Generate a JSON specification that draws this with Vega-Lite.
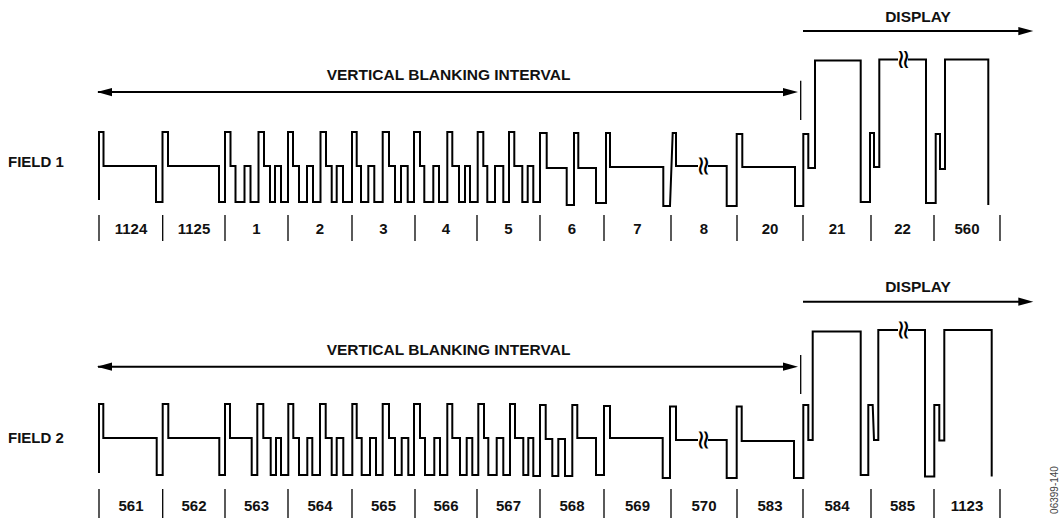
{
  "$schema": "https://vega.github.io/schema/vega-lite/v6.json",
  "width": 1063,
  "height": 523,
  "autosize": {"type": "fit", "contains": "padding"},
  "padding": 0,
  "background": "white",
  "config": {"view": {"stroke": null}, "text": {"font": "Liberation Sans"}},
  "datasets": {
    "wave": [
      {"s":"f1a","i":1,"x":99,"y":200},{"s":"f1a","i":2,"x":99,"y":132},{"s":"f1a","i":3,"x":103.5,"y":132},{"s":"f1a","i":4,"x":103.5,"y":166},{"s":"f1a","i":5,"x":156,"y":166},{"s":"f1a","i":6,"x":156,"y":202},{"s":"f1a","i":7,"x":162.5,"y":202},{"s":"f1a","i":8,"x":162.5,"y":132},{"s":"f1a","i":9,"x":168,"y":132},{"s":"f1a","i":10,"x":168,"y":166},
      {"s":"f1a","i":11,"x":219,"y":166},{"s":"f1a","i":12,"x":219,"y":202},{"s":"f1a","i":13,"x":225,"y":202},{"s":"f1a","i":14,"x":225,"y":132},{"s":"f1a","i":15,"x":230.5,"y":132},{"s":"f1a","i":16,"x":230.5,"y":166},{"s":"f1a","i":17,"x":235.5,"y":166},{"s":"f1a","i":18,"x":235.5,"y":202},{"s":"f1a","i":19,"x":244.5,"y":202},{"s":"f1a","i":20,"x":244.5,"y":166},
      {"s":"f1a","i":21,"x":250.5,"y":166},{"s":"f1a","i":22,"x":250.5,"y":202},{"s":"f1a","i":23,"x":258.5,"y":202},{"s":"f1a","i":24,"x":258.5,"y":132},{"s":"f1a","i":25,"x":264,"y":132},{"s":"f1a","i":26,"x":264,"y":166},{"s":"f1a","i":27,"x":270,"y":166},{"s":"f1a","i":28,"x":270,"y":202},{"s":"f1a","i":29,"x":275,"y":202},{"s":"f1a","i":30,"x":275,"y":166},
      {"s":"f1a","i":31,"x":281,"y":166},{"s":"f1a","i":32,"x":281,"y":202},{"s":"f1a","i":33,"x":288,"y":202},{"s":"f1a","i":34,"x":288,"y":132},{"s":"f1a","i":35,"x":293,"y":132},{"s":"f1a","i":36,"x":293,"y":166},{"s":"f1a","i":37,"x":299,"y":166},{"s":"f1a","i":38,"x":299,"y":202},{"s":"f1a","i":39,"x":307,"y":202},{"s":"f1a","i":40,"x":307,"y":166},
      {"s":"f1a","i":41,"x":313,"y":166},{"s":"f1a","i":42,"x":313,"y":202},{"s":"f1a","i":43,"x":320.5,"y":202},{"s":"f1a","i":44,"x":320.5,"y":132},{"s":"f1a","i":45,"x":326,"y":132},{"s":"f1a","i":46,"x":326,"y":166},{"s":"f1a","i":47,"x":331.7,"y":166},{"s":"f1a","i":48,"x":331.7,"y":202},{"s":"f1a","i":49,"x":336.7,"y":202},{"s":"f1a","i":50,"x":336.7,"y":166},
      {"s":"f1a","i":51,"x":343,"y":166},{"s":"f1a","i":52,"x":343,"y":202},{"s":"f1a","i":53,"x":352,"y":202},{"s":"f1a","i":54,"x":352,"y":132},{"s":"f1a","i":55,"x":356.7,"y":132},{"s":"f1a","i":56,"x":356.7,"y":166},{"s":"f1a","i":57,"x":361,"y":166},{"s":"f1a","i":58,"x":361,"y":202},{"s":"f1a","i":59,"x":368.3,"y":202},{"s":"f1a","i":60,"x":368.3,"y":166},
      {"s":"f1a","i":61,"x":374.3,"y":166},{"s":"f1a","i":62,"x":374.3,"y":202},{"s":"f1a","i":63,"x":382.7,"y":202},{"s":"f1a","i":64,"x":382.7,"y":132},{"s":"f1a","i":65,"x":389,"y":132},{"s":"f1a","i":66,"x":389,"y":166},{"s":"f1a","i":67,"x":395,"y":166},{"s":"f1a","i":68,"x":395,"y":202},{"s":"f1a","i":69,"x":401,"y":202},{"s":"f1a","i":70,"x":401,"y":166},
      {"s":"f1a","i":71,"x":407.7,"y":166},{"s":"f1a","i":72,"x":407.7,"y":202},{"s":"f1a","i":73,"x":414,"y":202},{"s":"f1a","i":74,"x":414,"y":132},{"s":"f1a","i":75,"x":420,"y":132},{"s":"f1a","i":76,"x":420,"y":166},{"s":"f1a","i":77,"x":424.3,"y":166},{"s":"f1a","i":78,"x":424.3,"y":202},{"s":"f1a","i":79,"x":433.3,"y":202},{"s":"f1a","i":80,"x":433.3,"y":166},
      {"s":"f1a","i":81,"x":439,"y":166},{"s":"f1a","i":82,"x":439,"y":202},{"s":"f1a","i":83,"x":447.3,"y":202},{"s":"f1a","i":84,"x":447.3,"y":132},{"s":"f1a","i":85,"x":452.3,"y":132},{"s":"f1a","i":86,"x":452.3,"y":166},{"s":"f1a","i":87,"x":459,"y":166},{"s":"f1a","i":88,"x":459,"y":202},{"s":"f1a","i":89,"x":465,"y":202},{"s":"f1a","i":90,"x":465,"y":166},
      {"s":"f1a","i":91,"x":470,"y":166},{"s":"f1a","i":92,"x":470,"y":202},{"s":"f1a","i":93,"x":477.7,"y":202},{"s":"f1a","i":94,"x":477.7,"y":132},{"s":"f1a","i":95,"x":483.3,"y":132},{"s":"f1a","i":96,"x":483.3,"y":166},{"s":"f1a","i":97,"x":487.3,"y":166},{"s":"f1a","i":98,"x":487.3,"y":202},{"s":"f1a","i":99,"x":495,"y":202},{"s":"f1a","i":100,"x":495,"y":166},
      {"s":"f1a","i":101,"x":503.3,"y":166},{"s":"f1a","i":102,"x":503.3,"y":202},{"s":"f1a","i":103,"x":509,"y":202},{"s":"f1a","i":104,"x":509,"y":132},{"s":"f1a","i":105,"x":514.3,"y":132},{"s":"f1a","i":106,"x":514.3,"y":166},{"s":"f1a","i":107,"x":522.3,"y":166},{"s":"f1a","i":108,"x":522.3,"y":202},{"s":"f1a","i":109,"x":527.7,"y":202},{"s":"f1a","i":110,"x":527.7,"y":166},
      {"s":"f1a","i":111,"x":533.3,"y":166},{"s":"f1a","i":112,"x":533.3,"y":202},{"s":"f1a","i":113,"x":540,"y":202},{"s":"f1a","i":114,"x":540,"y":133},{"s":"f1a","i":115,"x":546.7,"y":133},{"s":"f1a","i":116,"x":546.7,"y":168},{"s":"f1a","i":117,"x":566.7,"y":168},{"s":"f1a","i":118,"x":566.7,"y":205},{"s":"f1a","i":119,"x":574,"y":205},{"s":"f1a","i":120,"x":574,"y":133},
      {"s":"f1a","i":121,"x":578.3,"y":133},{"s":"f1a","i":122,"x":578.3,"y":168},{"s":"f1a","i":123,"x":596,"y":168},{"s":"f1a","i":124,"x":596,"y":203},{"s":"f1a","i":125,"x":606,"y":203},{"s":"f1a","i":126,"x":606,"y":133},{"s":"f1a","i":127,"x":610,"y":133},{"s":"f1a","i":128,"x":610,"y":167},{"s":"f1a","i":129,"x":663.3,"y":167},{"s":"f1a","i":130,"x":663.3,"y":206},
      {"s":"f1a","i":131,"x":670,"y":206},{"s":"f1a","i":132,"x":672.7,"y":133},{"s":"f1a","i":133,"x":676,"y":133},{"s":"f1a","i":134,"x":676,"y":166},{"s":"f1a","i":135,"x":698,"y":166},
      {"s":"f1b","i":1,"x":708,"y":166},{"s":"f1b","i":2,"x":726.7,"y":166},{"s":"f1b","i":3,"x":726.7,"y":206},{"s":"f1b","i":4,"x":736.7,"y":206},{"s":"f1b","i":5,"x":736.7,"y":134},{"s":"f1b","i":6,"x":742.3,"y":134},{"s":"f1b","i":7,"x":742.3,"y":167},{"s":"f1b","i":8,"x":795,"y":167},{"s":"f1b","i":9,"x":795,"y":206},{"s":"f1b","i":10,"x":803.3,"y":206},
      {"s":"f1b","i":11,"x":803.3,"y":134},{"s":"f1b","i":12,"x":808.3,"y":134},{"s":"f1b","i":13,"x":808.3,"y":168},{"s":"f1b","i":14,"x":815,"y":168},{"s":"f1b","i":15,"x":815,"y":60.5},{"s":"f1b","i":16,"x":860.7,"y":60.5},{"s":"f1b","i":17,"x":860.7,"y":202},{"s":"f1b","i":18,"x":870,"y":202},{"s":"f1b","i":19,"x":870,"y":133},{"s":"f1b","i":20,"x":874,"y":133},
      {"s":"f1b","i":21,"x":874,"y":167},{"s":"f1b","i":22,"x":879.3,"y":167},{"s":"f1b","i":23,"x":879.3,"y":59.5},{"s":"f1b","i":24,"x":898,"y":59.5},
      {"s":"f1c","i":1,"x":908,"y":59.5},{"s":"f1c","i":2,"x":926,"y":59.5},{"s":"f1c","i":3,"x":926,"y":203},{"s":"f1c","i":4,"x":935.7,"y":203},{"s":"f1c","i":5,"x":935.7,"y":134},{"s":"f1c","i":6,"x":940,"y":134},{"s":"f1c","i":7,"x":940,"y":169},{"s":"f1c","i":8,"x":945,"y":169},{"s":"f1c","i":9,"x":945,"y":59.5},{"s":"f1c","i":10,"x":988.3,"y":59.5},{"s":"f1c","i":11,"x":988.3,"y":205},

      {"s":"f2a","i":1,"x":99,"y":473},{"s":"f2a","i":2,"x":99,"y":404},{"s":"f2a","i":3,"x":103.3,"y":404},{"s":"f2a","i":4,"x":103.3,"y":438},{"s":"f2a","i":5,"x":156.7,"y":438},{"s":"f2a","i":6,"x":156.7,"y":475},{"s":"f2a","i":7,"x":162.7,"y":475},{"s":"f2a","i":8,"x":162.7,"y":404},{"s":"f2a","i":9,"x":168.3,"y":404},{"s":"f2a","i":10,"x":168.3,"y":438},
      {"s":"f2a","i":11,"x":219.3,"y":438},{"s":"f2a","i":12,"x":219.3,"y":475},{"s":"f2a","i":13,"x":225,"y":475},{"s":"f2a","i":14,"x":225,"y":404},{"s":"f2a","i":15,"x":230,"y":404},{"s":"f2a","i":16,"x":230,"y":438},{"s":"f2a","i":17,"x":251.7,"y":438},{"s":"f2a","i":18,"x":251.7,"y":475},{"s":"f2a","i":19,"x":257.3,"y":475},{"s":"f2a","i":20,"x":257.3,"y":404},
      {"s":"f2a","i":21,"x":263.3,"y":404},{"s":"f2a","i":22,"x":263.3,"y":438},{"s":"f2a","i":23,"x":270.7,"y":438},{"s":"f2a","i":24,"x":270.7,"y":475},{"s":"f2a","i":25,"x":276,"y":475},{"s":"f2a","i":26,"x":276,"y":438},{"s":"f2a","i":27,"x":281,"y":438},{"s":"f2a","i":28,"x":281,"y":475},{"s":"f2a","i":29,"x":288.3,"y":475},{"s":"f2a","i":30,"x":288.3,"y":404},
      {"s":"f2a","i":31,"x":293.3,"y":404},{"s":"f2a","i":32,"x":293.3,"y":438},{"s":"f2a","i":33,"x":299,"y":438},{"s":"f2a","i":34,"x":299,"y":475},{"s":"f2a","i":35,"x":307.3,"y":475},{"s":"f2a","i":36,"x":307.3,"y":438},{"s":"f2a","i":37,"x":312.3,"y":438},{"s":"f2a","i":38,"x":312.3,"y":475},{"s":"f2a","i":39,"x":320,"y":475},{"s":"f2a","i":40,"x":320,"y":404},
      {"s":"f2a","i":41,"x":325.7,"y":404},{"s":"f2a","i":42,"x":325.7,"y":438},{"s":"f2a","i":43,"x":331.7,"y":438},{"s":"f2a","i":44,"x":331.7,"y":475},{"s":"f2a","i":45,"x":336.7,"y":475},{"s":"f2a","i":46,"x":336.7,"y":438},{"s":"f2a","i":47,"x":343.3,"y":438},{"s":"f2a","i":48,"x":343.3,"y":475},{"s":"f2a","i":49,"x":352.3,"y":475},{"s":"f2a","i":50,"x":352.3,"y":404},
      {"s":"f2a","i":51,"x":356.7,"y":404},{"s":"f2a","i":52,"x":356.7,"y":438},{"s":"f2a","i":53,"x":361.7,"y":438},{"s":"f2a","i":54,"x":361.7,"y":475},{"s":"f2a","i":55,"x":370,"y":475},{"s":"f2a","i":56,"x":370,"y":438},{"s":"f2a","i":57,"x":376,"y":438},{"s":"f2a","i":58,"x":376,"y":475},{"s":"f2a","i":59,"x":382.7,"y":475},{"s":"f2a","i":60,"x":382.7,"y":404},
      {"s":"f2a","i":61,"x":389,"y":404},{"s":"f2a","i":62,"x":389,"y":438},{"s":"f2a","i":63,"x":395,"y":438},{"s":"f2a","i":64,"x":395,"y":475},{"s":"f2a","i":65,"x":401.7,"y":475},{"s":"f2a","i":66,"x":401.7,"y":438},{"s":"f2a","i":67,"x":408.3,"y":438},{"s":"f2a","i":68,"x":408.3,"y":475},{"s":"f2a","i":69,"x":414,"y":475},{"s":"f2a","i":70,"x":414,"y":404},
      {"s":"f2a","i":71,"x":420,"y":404},{"s":"f2a","i":72,"x":420,"y":438},{"s":"f2a","i":73,"x":425,"y":438},{"s":"f2a","i":74,"x":425,"y":475},{"s":"f2a","i":75,"x":434.3,"y":475},{"s":"f2a","i":76,"x":434.3,"y":438},{"s":"f2a","i":77,"x":440,"y":438},{"s":"f2a","i":78,"x":440,"y":475},{"s":"f2a","i":79,"x":447.3,"y":475},{"s":"f2a","i":80,"x":447.3,"y":404},
      {"s":"f2a","i":81,"x":452.3,"y":404},{"s":"f2a","i":82,"x":452.3,"y":438},{"s":"f2a","i":83,"x":460,"y":438},{"s":"f2a","i":84,"x":460,"y":475},{"s":"f2a","i":85,"x":466.7,"y":475},{"s":"f2a","i":86,"x":466.7,"y":438},{"s":"f2a","i":87,"x":472.3,"y":438},{"s":"f2a","i":88,"x":472.3,"y":475},{"s":"f2a","i":89,"x":478.3,"y":475},{"s":"f2a","i":90,"x":478.3,"y":404},
      {"s":"f2a","i":91,"x":484,"y":404},{"s":"f2a","i":92,"x":484,"y":438},{"s":"f2a","i":93,"x":488.3,"y":438},{"s":"f2a","i":94,"x":488.3,"y":475},{"s":"f2a","i":95,"x":496.7,"y":475},{"s":"f2a","i":96,"x":496.7,"y":438},{"s":"f2a","i":97,"x":503.3,"y":438},{"s":"f2a","i":98,"x":503.3,"y":475},{"s":"f2a","i":99,"x":510,"y":475},{"s":"f2a","i":100,"x":510,"y":404},
      {"s":"f2a","i":101,"x":515,"y":404},{"s":"f2a","i":102,"x":515,"y":438},{"s":"f2a","i":103,"x":523.3,"y":438},{"s":"f2a","i":104,"x":523.3,"y":475},{"s":"f2a","i":105,"x":528.3,"y":475},{"s":"f2a","i":106,"x":528.3,"y":438},{"s":"f2a","i":107,"x":533.3,"y":438},{"s":"f2a","i":108,"x":533.3,"y":476},{"s":"f2a","i":109,"x":540,"y":476},{"s":"f2a","i":110,"x":540,"y":405},
      {"s":"f2a","i":111,"x":545.7,"y":405},{"s":"f2a","i":112,"x":545.7,"y":439},{"s":"f2a","i":113,"x":552.3,"y":439},{"s":"f2a","i":114,"x":552.3,"y":476},{"s":"f2a","i":115,"x":558.3,"y":476},{"s":"f2a","i":116,"x":558.3,"y":439},{"s":"f2a","i":117,"x":565,"y":439},{"s":"f2a","i":118,"x":565,"y":476},{"s":"f2a","i":119,"x":572.3,"y":476},{"s":"f2a","i":120,"x":572.3,"y":405},
      {"s":"f2a","i":121,"x":577.3,"y":405},{"s":"f2a","i":122,"x":577.3,"y":438},{"s":"f2a","i":123,"x":596,"y":438},{"s":"f2a","i":124,"x":596,"y":475},{"s":"f2a","i":125,"x":604,"y":475},{"s":"f2a","i":126,"x":604,"y":406},{"s":"f2a","i":127,"x":610,"y":406},{"s":"f2a","i":128,"x":610,"y":438},{"s":"f2a","i":129,"x":662.7,"y":438},{"s":"f2a","i":130,"x":662.7,"y":478},
      {"s":"f2a","i":131,"x":670,"y":478},{"s":"f2a","i":132,"x":670,"y":406.5},{"s":"f2a","i":133,"x":676,"y":406.5},{"s":"f2a","i":134,"x":676,"y":440},{"s":"f2a","i":135,"x":698,"y":440},
      {"s":"f2b","i":1,"x":708,"y":440},{"s":"f2b","i":2,"x":726.7,"y":440},{"s":"f2b","i":3,"x":726.7,"y":478},{"s":"f2b","i":4,"x":736.7,"y":478},{"s":"f2b","i":5,"x":736.7,"y":406.5},{"s":"f2b","i":6,"x":741.7,"y":406.5},{"s":"f2b","i":7,"x":741.7,"y":441},{"s":"f2b","i":8,"x":794,"y":441},{"s":"f2b","i":9,"x":794,"y":478},{"s":"f2b","i":10,"x":803.3,"y":478},
      {"s":"f2b","i":11,"x":803.3,"y":405},{"s":"f2b","i":12,"x":808.3,"y":405},{"s":"f2b","i":13,"x":808.3,"y":440},{"s":"f2b","i":14,"x":812.7,"y":440},{"s":"f2b","i":15,"x":812.7,"y":331.5},{"s":"f2b","i":16,"x":860.7,"y":331.5},{"s":"f2b","i":17,"x":860.7,"y":475},{"s":"f2b","i":18,"x":868.3,"y":475},{"s":"f2b","i":19,"x":868.3,"y":405},{"s":"f2b","i":20,"x":872.7,"y":405},
      {"s":"f2b","i":21,"x":874,"y":440},{"s":"f2b","i":22,"x":878.3,"y":440},{"s":"f2b","i":23,"x":878.3,"y":330},{"s":"f2b","i":24,"x":898,"y":330},
      {"s":"f2c","i":1,"x":908,"y":330},{"s":"f2c","i":2,"x":925,"y":330},{"s":"f2c","i":3,"x":925,"y":476.5},{"s":"f2c","i":4,"x":934.3,"y":476.5},{"s":"f2c","i":5,"x":934.3,"y":405},{"s":"f2c","i":6,"x":939.3,"y":405},{"s":"f2c","i":7,"x":939.3,"y":440.5},{"s":"f2c","i":8,"x":944.3,"y":440.5},{"s":"f2c","i":9,"x":944.3,"y":330},{"s":"f2c","i":10,"x":991.7,"y":330},{"s":"f2c","i":11,"x":991.7,"y":476.5}
    ],
    "ticks": [
      {"x":99,"y":215,"y2":241},{"x":162.7,"y":215,"y2":241},{"x":225,"y":215,"y2":241},{"x":288,"y":215,"y2":241},{"x":352,"y":215,"y2":241},{"x":415,"y":215,"y2":241},{"x":477,"y":215,"y2":241},{"x":540,"y":215,"y2":241},{"x":604,"y":215,"y2":241},{"x":671,"y":215,"y2":241},{"x":737,"y":215,"y2":241},{"x":803,"y":215,"y2":241},{"x":871,"y":215,"y2":241},{"x":934,"y":215,"y2":241},{"x":1000,"y":215,"y2":241},
      {"x":99,"y":489,"y2":518},{"x":162.7,"y":489,"y2":518},{"x":225,"y":489,"y2":518},{"x":288,"y":489,"y2":518},{"x":352,"y":489,"y2":518},{"x":415,"y":489,"y2":518},{"x":477,"y":489,"y2":518},{"x":540,"y":489,"y2":518},{"x":604,"y":489,"y2":518},{"x":671,"y":489,"y2":518},{"x":737,"y":489,"y2":518},{"x":803,"y":489,"y2":518},{"x":871,"y":489,"y2":518},{"x":934,"y":489,"y2":518},{"x":1000,"y":489,"y2":518}
    ],
    "lineLabels": [
      {"x":131,"y":229,"t":"1124"},{"x":194,"y":229,"t":"1125"},{"x":256.5,"y":229,"t":"1"},{"x":320,"y":229,"t":"2"},{"x":383.5,"y":229,"t":"3"},{"x":446,"y":229,"t":"4"},{"x":508.5,"y":229,"t":"5"},{"x":572,"y":229,"t":"6"},{"x":637.5,"y":229,"t":"7"},{"x":704,"y":229,"t":"8"},{"x":770,"y":229,"t":"20"},{"x":837,"y":229,"t":"21"},{"x":902.5,"y":229,"t":"22"},{"x":967,"y":229,"t":"560"},
      {"x":131,"y":506,"t":"561"},{"x":194,"y":506,"t":"562"},{"x":256.5,"y":506,"t":"563"},{"x":320,"y":506,"t":"564"},{"x":383.5,"y":506,"t":"565"},{"x":446,"y":506,"t":"566"},{"x":508.5,"y":506,"t":"567"},{"x":572,"y":506,"t":"568"},{"x":637.5,"y":506,"t":"569"},{"x":704,"y":506,"t":"570"},{"x":770,"y":506,"t":"583"},{"x":837,"y":506,"t":"584"},{"x":902.5,"y":506,"t":"585"},{"x":967,"y":506,"t":"1123"}
    ],
    "titles": [
      {"x":448.5,"y":75,"t":"VERTICAL BLANKING INTERVAL"},{"x":448.5,"y":350,"t":"VERTICAL BLANKING INTERVAL"},
      {"x":918,"y":17,"t":"DISPLAY"},{"x":918,"y":287,"t":"DISPLAY"}
    ],
    "fields": [
      {"x":8,"y":162,"t":"FIELD 1"},{"x":8,"y":438,"t":"FIELD 2"}
    ],
    "arrows": [
      {"x":98,"x2":792,"y":92},{"x":98,"x2":792,"y":366.7},{"x":803,"x2":1027,"y":31},{"x":803,"x2":1027,"y":301.7}
    ],
    "markers": [
      {"x":800.7,"y":80.7,"y2":120},{"x":800.7,"y":355,"y2":394}
    ],
    "headsRight": [
      {"x":790.5,"y":92},{"x":790.5,"y":366.7},{"x":1025.8,"y":31},{"x":1025.8,"y":301.7}
    ],
    "headsLeft": [
      {"x":104.5,"y":92},{"x":104.5,"y":366.7}
    ],
    "breaks": [
      {"x":703,"y":166},{"x":903,"y":59.5},{"x":703,"y":440},{"x":903,"y":330}
    ],
    "code": [
      {"x":1055,"y":490,"t":"06399-140"}
    ]
  },
  "layer": [
    {
      "data": {"name": "ticks"},
      "mark": {"type": "rule", "color": "black", "strokeWidth": 1.3},
      "encoding": {
        "x": {"field": "x", "type": "quantitative", "scale": {"domain": [0, 1063], "nice": false, "zero": false}, "axis": null},
        "y": {"field": "y", "type": "quantitative", "scale": {"domain": [0, 523], "nice": false, "zero": false, "reverse": true}, "axis": null},
        "y2": {"field": "y2"}
      }
    },
    {
      "data": {"name": "markers"},
      "mark": {"type": "rule", "color": "black", "strokeWidth": 1.3},
      "encoding": {
        "x": {"field": "x", "type": "quantitative"},
        "y": {"field": "y", "type": "quantitative"},
        "y2": {"field": "y2"}
      }
    },
    {
      "data": {"name": "arrows"},
      "mark": {"type": "rule", "color": "black", "strokeWidth": 2},
      "encoding": {
        "x": {"field": "x", "type": "quantitative"},
        "x2": {"field": "x2"},
        "y": {"field": "y", "type": "quantitative"}
      }
    },
    {
      "data": {"name": "headsRight"},
      "mark": {"type": "point", "shape": "M -1 -0.55 L 1 0 L -1 0.55 Z", "filled": true, "color": "black", "opacity": 1, "size": 225, "strokeWidth": 0},
      "encoding": {
        "x": {"field": "x", "type": "quantitative"},
        "y": {"field": "y", "type": "quantitative"}
      }
    },
    {
      "data": {"name": "headsLeft"},
      "mark": {"type": "point", "shape": "M 1 -0.55 L -1 0 L 1 0.55 Z", "filled": true, "color": "black", "opacity": 1, "size": 225, "strokeWidth": 0},
      "encoding": {
        "x": {"field": "x", "type": "quantitative"},
        "y": {"field": "y", "type": "quantitative"}
      }
    },
    {
      "data": {"name": "wave"},
      "mark": {"type": "line", "color": "black", "strokeWidth": 2, "strokeJoin": "miter", "strokeCap": "butt"},
      "encoding": {
        "x": {"field": "x", "type": "quantitative"},
        "y": {"field": "y", "type": "quantitative"},
        "detail": {"field": "s", "type": "nominal"},
        "order": {"field": "i", "type": "quantitative"}
      }
    },
    {
      "data": {"name": "breaks"},
      "mark": {"type": "text", "text": "≈", "angle": 90, "fontSize": 27, "font": "DejaVu Sans", "color": "black", "align": "center", "baseline": "middle"},
      "encoding": {
        "x": {"field": "x", "type": "quantitative"},
        "y": {"field": "y", "type": "quantitative"}
      }
    },
    {
      "data": {"name": "lineLabels"},
      "mark": {"type": "text", "fontSize": 15, "fontWeight": "bold", "color": "#111", "align": "center", "baseline": "middle"},
      "encoding": {
        "x": {"field": "x", "type": "quantitative"},
        "y": {"field": "y", "type": "quantitative"},
        "text": {"field": "t"}
      }
    },
    {
      "data": {"name": "titles"},
      "mark": {"type": "text", "fontSize": 15.5, "fontWeight": "bold", "color": "#111", "align": "center", "baseline": "middle"},
      "encoding": {
        "x": {"field": "x", "type": "quantitative"},
        "y": {"field": "y", "type": "quantitative"},
        "text": {"field": "t"}
      }
    },
    {
      "data": {"name": "fields"},
      "mark": {"type": "text", "fontSize": 15, "fontWeight": "bold", "color": "#111", "align": "left", "baseline": "middle"},
      "encoding": {
        "x": {"field": "x", "type": "quantitative"},
        "y": {"field": "y", "type": "quantitative"},
        "text": {"field": "t"}
      }
    },
    {
      "data": {"name": "code"},
      "mark": {"type": "text", "fontSize": 10, "color": "#444", "angle": 270, "align": "center", "baseline": "middle"},
      "encoding": {
        "x": {"field": "x", "type": "quantitative"},
        "y": {"field": "y", "type": "quantitative"},
        "text": {"field": "t"}
      }
    }
  ]
}
